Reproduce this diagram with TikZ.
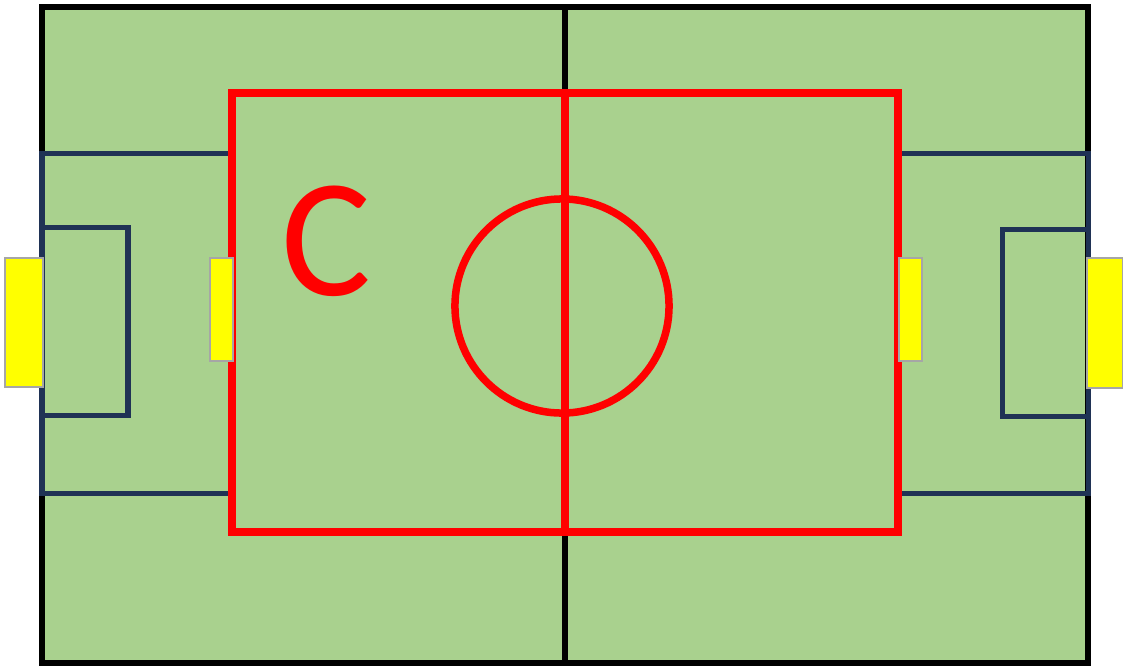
\documentclass[tikz,border=0pt]{standalone}
\usepackage{fontspec}
\newfontfamily\labelfont{Carlito}
\definecolor{pitch}{HTML}{A9D18E}
\definecolor{navy}{HTML}{1F3255}
\definecolor{goalgray}{HTML}{A6A6A6}
\definecolor{goalyellow}{RGB}{255,255,0}
\begin{document}
\begin{tikzpicture}[
    x=0.01cm, y=-0.01cm,
    outline/.style={draw=black, line width=0.55mm},
    area/.style={draw=navy, line width=0.5mm},
    zone/.style={draw=red, line width=0.8mm},
    goal/.style={fill=goalyellow, draw=goalgray, line width=0.15mm},
    letter/.style={text=red, font=\labelfont\fontsize{48}{48}\selectfont, inner sep=0pt},
]
\useasboundingbox (0,0) rectangle (1123,666);

% Pitch
\fill[pitch] (42,7) rectangle (1088,663);
\draw[outline] (42,7) rectangle (1088,663);
\draw[outline] (565,7) -- (565,663);

% Penalty and goal areas
\draw[area] (230,153) -- (42,153) -- (42,493) -- (230,493);
\draw[area] (42,227) -- (128,227) -- (128,415) -- (42,415);
\draw[area] (898,153) -- (1088,153) -- (1088,493) -- (898,493);
\draw[area] (1088,229) -- (1002,229) -- (1002,416) -- (1088,416);

% Red zone
\draw[zone] (232,93) rectangle (898,532);
\draw[zone] (565,93) -- (565,532);
\draw[zone, line width=0.75mm] (562,306) circle [radius=1.07cm];

% Goals
\filldraw[goal] (5,258) rectangle (43,387);
\filldraw[goal] (210,258) rectangle (233,361);
\filldraw[goal] (899,258) rectangle (922,361);
\filldraw[goal] (1087,258) rectangle (1123,388);

% Label
\node[letter] (zonec) at (327,241) {C};

\end{tikzpicture}
\end{document}
